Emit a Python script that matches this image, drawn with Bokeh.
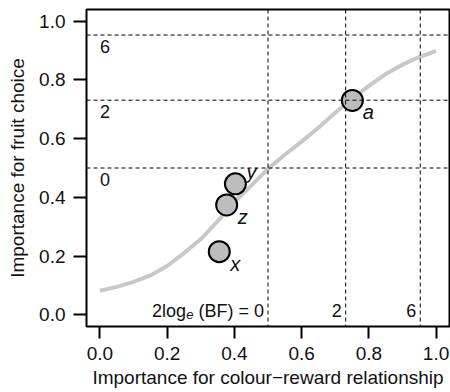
from bokeh.plotting import figure
from bokeh.models import Span, FixedTicker, PrintfTickFormatter, ColumnDataSource, Range1d
from bokeh.core.properties import value
from bokeh.embed import file_html
from bokeh.resources import INLINE

# ---- data ----
point_names = ["a", "y", "z", "x"]
colour_imp = [0.751, 0.403, 0.377, 0.355]
fruit_imp = [0.730, 0.446, 0.374, 0.215]

curve_x = [0.00, 0.05, 0.10, 0.15, 0.20, 0.25, 0.30, 0.35, 0.40, 0.45, 0.50,
           0.55, 0.60, 0.65, 0.70, 0.75, 0.80, 0.85, 0.90, 0.95, 1.00]
curve_y = [0.082, 0.095, 0.112, 0.134, 0.166, 0.210, 0.258, 0.318, 0.385, 0.440, 0.497,
           0.545, 0.590, 0.637, 0.688, 0.735, 0.780, 0.820, 0.852, 0.878, 0.899]

bf_levels = ["0", "2", "6"]
bf_thresholds = [0.500, 0.731, 0.953]

tick_values = [0.0, 0.2, 0.4, 0.6, 0.8, 1.0]

# ---- styling ----
FONT = "Liberation Sans"
TXT = "#111111"
label_y_offsets = [12, -12, 12, 12]

p = figure(width=450, height=392, output_backend="svg", toolbar_location=None,
           x_range=Range1d(-0.04, 1.04), y_range=Range1d(-0.04, 1.04),
           min_border_left=86, min_border_right=1, min_border_top=9, min_border_bottom=66)
p.background_fill_color = "white"
p.border_fill_color = "white"
p.grid.visible = False
p.outline_line_color = "black"
p.outline_line_width = 2

for ax in (p.xaxis[0], p.yaxis[0]):
    ax.ticker = FixedTicker(ticks=tick_values)
    ax.formatter = PrintfTickFormatter(format="%.1f")
    ax.axis_line_color = None
    ax.major_tick_in = 0
    ax.major_tick_line_width = 2
    ax.major_tick_line_color = "black"
    ax.minor_tick_line_color = None
    ax.major_label_text_font = FONT
    ax.major_label_text_font_size = "19px"
    ax.major_label_text_color = TXT
    ax.axis_label_text_font = FONT
    ax.axis_label_text_font_size = "19px"
    ax.axis_label_text_font_style = "normal"
    ax.axis_label_text_color = TXT

p.xaxis.axis_label = "Importance for colour\u2212reward relationship"
p.yaxis.axis_label = "Importance for fruit choice"
p.xaxis.major_tick_out = 12
p.xaxis.major_label_standoff = 8
p.xaxis.axis_label_standoff = 4
p.yaxis.major_tick_out = 13
p.yaxis.major_label_standoff = 8
p.yaxis.major_label_orientation = "horizontal"
p.yaxis.axis_label_standoff = 8

# dashed Bayes-factor threshold lines
for t in bf_thresholds:
    p.add_layout(Span(location=t, dimension="width", line_color="black",
                      line_width=1, line_dash="4 3"))
    p.add_layout(Span(location=t, dimension="height", line_color="black",
                      line_width=1, line_dash="4 3"))

# labels for horizontal lines (left side)
p.text(x=[0.0] * len(bf_thresholds), y=bf_thresholds, text=bf_levels,
       text_font=value(FONT), text_font_size="18px", text_color=TXT,
       text_align="left", text_baseline="top", y_offset=5)

# labels for vertical lines (bottom)
p.text(x=bf_thresholds[1:], y=[0.0] * 2, text=bf_levels[1:],
       text_font=value(FONT), text_font_size="18px", text_color=TXT,
       text_align="right", text_baseline="alphabetic", x_offset=-4, y_offset=-4)
# "2log_e (BF) = 0" composed of three pieces
p.text(x=[bf_thresholds[0]], y=[0.0], text=["(BF) = " + bf_levels[0]],
       text_font=value(FONT), text_font_size="18px", text_color=TXT,
       text_align="right", text_baseline="alphabetic", x_offset=-4, y_offset=-4)
p.text(x=[bf_thresholds[0]], y=[0.0], text=["e"],
       text_font=value(FONT), text_font_size="13px", text_font_style="italic",
       text_color=TXT, text_align="right", text_baseline="alphabetic",
       x_offset=-74.5, y_offset=0)
p.text(x=[bf_thresholds[0]], y=[0.0], text=["2log"],
       text_font=value(FONT), text_font_size="18px", text_color=TXT,
       text_align="right", text_baseline="alphabetic", x_offset=-82, y_offset=-4)

# fitted curve
p.line(curve_x, curve_y, line_color="#c8c8c8", line_width=4)

# points
src = ColumnDataSource(dict(x=colour_imp, y=fruit_imp, name=point_names,
                            dy=label_y_offsets))
p.scatter("x", "y", source=src, size=21, fill_color="#bdbdbd",
          line_color="black", line_width=2)
p.text("x", "y", text="name", source=src, text_font=value(FONT),
       text_font_size="20px", text_font_style="italic", text_color=TXT,
       text_align="center", text_baseline="middle", x_offset=16, y_offset="dy")

open("out.html", "w").write(file_html(p, INLINE))
